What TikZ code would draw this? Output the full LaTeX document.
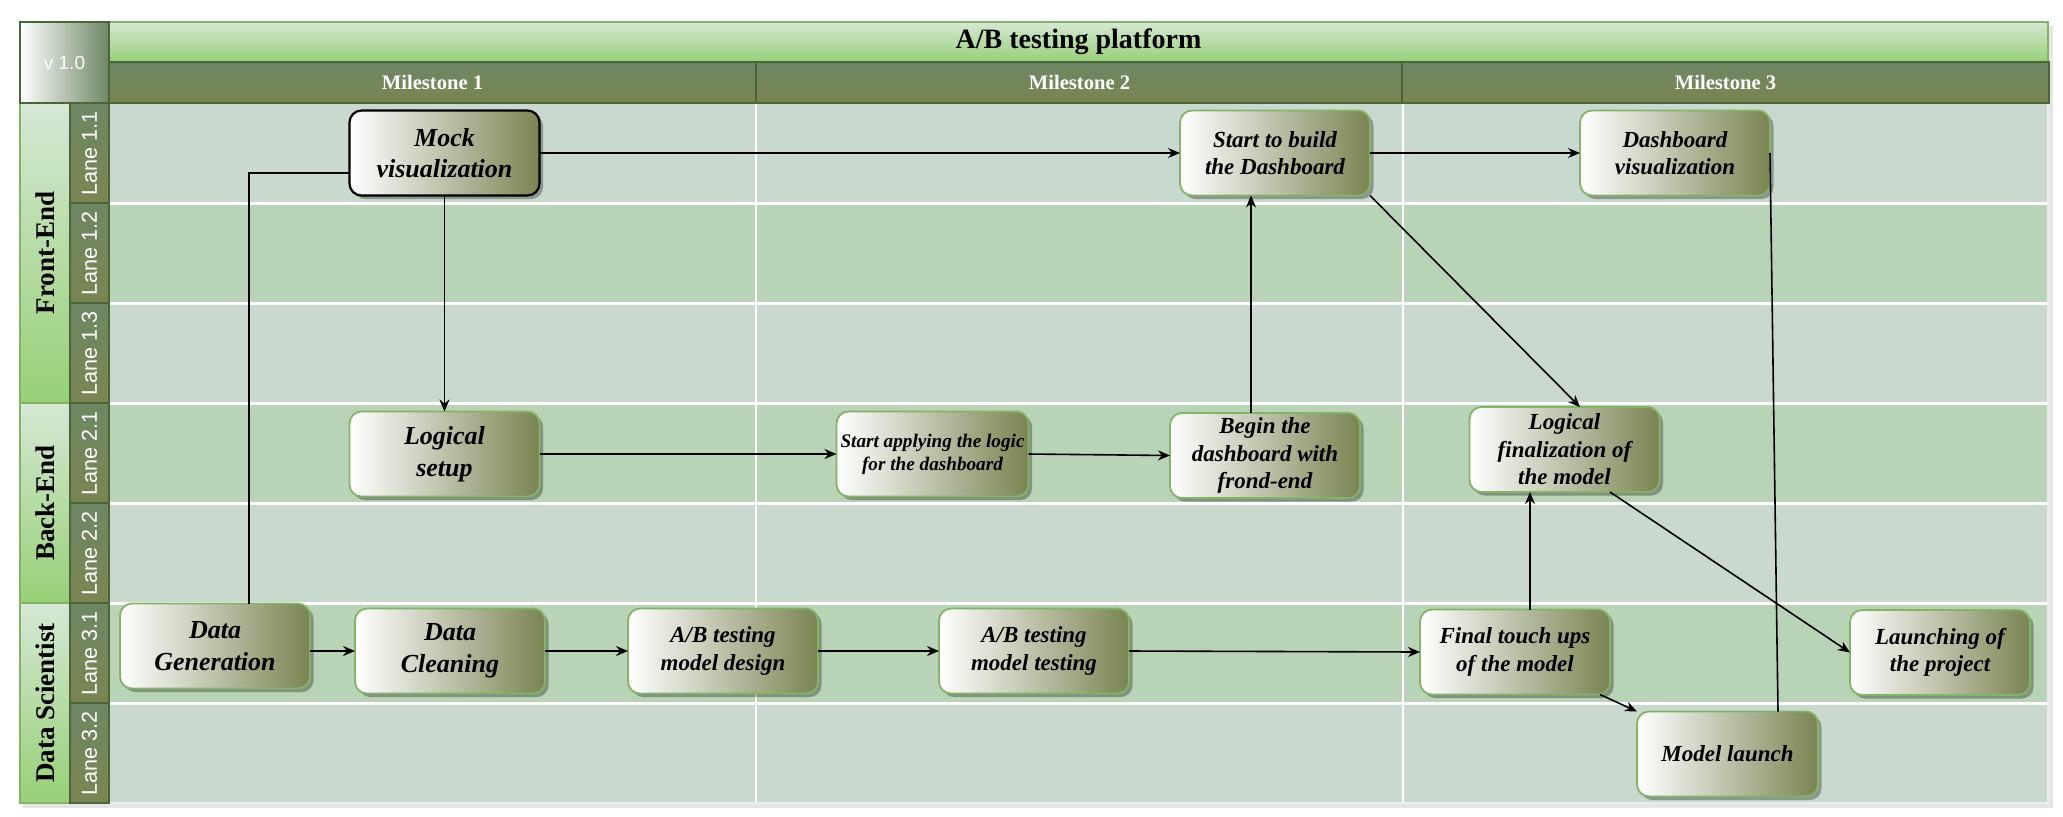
\documentclass[tikz,border=0pt]{standalone}
\usepackage{fontspec}
\setmainfont{Liberation Serif}
\setsansfont{Liberation Sans}
\usetikzlibrary{arrows.meta,shadows,calc}
\definecolor{laneA}{HTML}{C9D9CE}
\definecolor{laneB}{HTML}{B9D3B6}
\definecolor{boxgreen}{HTML}{82B366}
\definecolor{boxolive}{HTML}{7A8452}
\definecolor{hdrTop}{HTML}{D5E8D4}
\definecolor{hdrBot}{HTML}{97D077}
\definecolor{msTop}{HTML}{6D8764}
\definecolor{msBot}{HTML}{7A8552}
\definecolor{darkline}{HTML}{4A6538}
\tikzset{
  task/.style={rectangle, rounded corners=6pt, minimum width=95pt, minimum height=42.5pt,
    inner sep=2pt, outer sep=0pt, left color=white, right color=boxolive,
    draw=boxgreen, line width=0.9pt, align=center, text=black,
    font=\bfseries\itshape\fontsize{11.5}{13.8}\selectfont,
    drop shadow={shadow xshift=1.8pt, shadow yshift=-1.8pt, fill=black, opacity=0.3}},
  bigtask/.style={task, font=\bfseries\itshape\fontsize{13}{15.8}\selectfont},
  smalltask/.style={task, font=\bfseries\itshape\fontsize{9.6}{11.5}\selectfont},
  mstone/.style={rectangle, minimum width=323.5pt, minimum height=20.5pt, inner sep=0pt,
    outer sep=0pt, top color=msTop, bottom color=msBot, draw=darkline, line width=0.8pt,
    text=white, font=\bfseries\fontsize{10.3}{12}\selectfont},
  rolelbl/.style={inner sep=0pt, text=black, font=\bfseries\fontsize{13.5}{16}\selectfont},
  lanelbl/.style={inner sep=0pt, text=white, font=\sffamily\fontsize{10.8}{13}\selectfont},
  arr/.style={draw=black, line width=0.8pt, -{Stealth[length=6pt,width=5pt]}},
  plainln/.style={draw=black, line width=0.8pt}
}
\begin{document}
\begin{tikzpicture}[x=0.5pt,y=-0.5pt]
\useasboundingbox (0,0) rectangle (2063,816);
% container shadow
\fill[black!10] (23,26) rectangle (2053,808);
% lanes
\foreach \i/\c in {0/laneA,1/laneB,2/laneA,3/laneB,4/laneA,5/laneB,6/laneA}
  \fill[\c] (109,{103+100*\i}) rectangle (2048,{203+100*\i});
\foreach \yy in {203,303,403,503,603,703}
  \draw[white, line width=1.5pt] (109,\yy) -- (2048,\yy);
\draw[white, line width=1pt] (756,103) -- (756,803);
\draw[white, line width=1pt] (1403,103) -- (1403,803);
\draw[white!85!gray, line width=0.8pt] (2048,103) -- (2048,803) -- (109,803);
% role column
\shade[top color=hdrTop, bottom color=hdrBot, draw=boxgreen, line width=0.8pt] (20,103) rectangle (70,403);
\shade[top color=hdrTop, bottom color=hdrBot, draw=boxgreen, line width=0.8pt] (20,403) rectangle (70,603);
\shade[top color=hdrTop, bottom color=hdrBot, draw=boxgreen, line width=0.8pt] (20,603) rectangle (70,803);
\node[rolelbl, rotate=90] (fe) at (45,253) {Front-End};
\node[rolelbl, rotate=90] (be) at (45,503) {Back-End};
\node[rolelbl, rotate=90] (ds) at (45,703) {Data Scientist};
% lane label column
\foreach \i in {0,...,6}
  \shade[top color=msTop, bottom color=msBot, draw=darkline, line width=0.8pt] (70,{103+100*\i}) rectangle (109,{203+100*\i});
\node[lanelbl, rotate=90] (l11) at (89.5,153) {Lane 1.1};
\node[lanelbl, rotate=90] (l12) at (89.5,253) {Lane 1.2};
\node[lanelbl, rotate=90] (l13) at (89.5,353) {Lane 1.3};
\node[lanelbl, rotate=90] (l21) at (89.5,453) {Lane 2.1};
\node[lanelbl, rotate=90] (l22) at (89.5,553) {Lane 2.2};
\node[lanelbl, rotate=90] (l31) at (89.5,653) {Lane 3.1};
\node[lanelbl, rotate=90] (l32) at (89.5,753) {Lane 3.2};
% header
\node[rectangle, minimum width=969.5pt, minimum height=20pt, inner sep=0pt, outer sep=0pt,
  top color=hdrTop, bottom color=hdrBot, draw=boxgreen, line width=0.8pt,
  font=\bfseries\fontsize{14}{16}\selectfont] (title) at (1078.5,42) {A/B testing platform};
\node[mstone] (m1) at (432.5,82.5) {Milestone 1};
\node[mstone] (m2) at (1079.5,82.5) {Milestone 2};
\node[mstone] (m3) at (1725.5,82.5) {Milestone 3};
\node[rectangle, minimum width=44.5pt, minimum height=40.5pt, inner sep=0pt, outer sep=0pt,
  left color=white, right color=msTop, draw=darkline, line width=0.8pt, text=white,
  font=\sffamily\fontsize{9.5}{11}\selectfont] (ver) at (64.5,62.5) {v 1.0};
% tasks
\node[bigtask, draw=black, line width=1.1pt] (mock) at (444.5,153) {Mock\\visualization};
\node[task] (startbuild) at (1275,153) {Start to build\\the Dashboard};
\node[task] (dashvis) at (1675,153) {Dashboard\\visualization};
\node[bigtask] (logsetup) at (444.5,454) {Logical\\setup};
\node[smalltask] (startapply) at (932.5,454) {Start applying the logic\\for the dashboard};
\node[task] (begin) at (1265,455.5) {Begin the\\dashboard with\\frond-end};
\node[task] (logfinal) at (1564.5,449.5) {Logical\\finalization of\\the model};
\node[bigtask] (datagen) at (215,646) {Data\\Generation};
\node[bigtask] (dataclean) at (450,651) {Data\\Cleaning};
\node[task] (abdesign) at (723,651) {A/B testing\\model design};
\node[task] (abtest) at (1034,651) {A/B testing\\model testing};
\node[task] (finaltouch) at (1515,652) {Final touch ups\\of the model};
\node[task, minimum width=90pt] (launching) at (1940,652.5) {Launching of\\the project};
\node[task, minimum width=90.5pt] (modellaunch) at (1727.5,754) {Model launch};
% connectors
\draw[arr] (mock.east) -- (startbuild.west);
\draw[arr] (startbuild.east) -- (dashvis.west);
\draw[arr] (mock.south) -- (logsetup.north);
\draw[plainln] ([xshift=16.85pt]datagen.north) |- ([yshift=-10pt]mock.west);
\draw[arr] (logsetup.east) -- (startapply.west);
\draw[arr] (startapply.east) -- (begin.west);
\draw[arr] ([xshift=-7pt]begin.north) -- ([xshift=-7pt]begin.north |- startbuild.south);
\draw[arr] (startbuild.south east) -- ([xshift=7.75pt]logfinal.north);
\draw[arr] (dataclean.west -| datagen.east) -- (dataclean.west);
\draw[arr] (dataclean.east) -- (abdesign.west);
\draw[arr] (abdesign.east) -- (abtest.west);
\draw[arr] (abtest.east) -- (finaltouch.west);
\draw[arr] ([xshift=7.5pt]finaltouch.north) -- ([xshift=7.5pt]finaltouch.north |- logfinal.south);
\draw[arr] ([xshift=22.75pt]logfinal.south) -- (launching.west);
\draw[arr] ([xshift=-5pt]finaltouch.south east) -- (modellaunch.north west);
\draw[plainln] ([xshift=25.25pt]modellaunch.north) -- (dashvis.east);
\end{tikzpicture}
\end{document}
